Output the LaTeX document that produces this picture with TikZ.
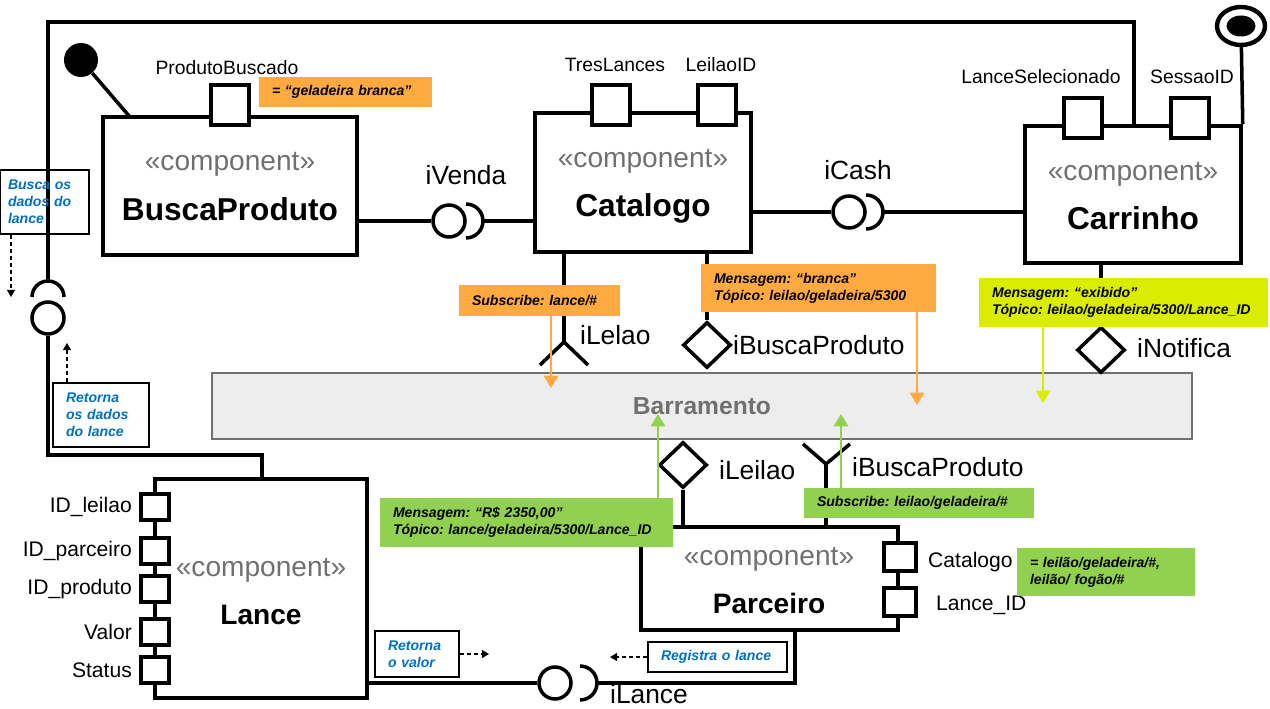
\documentclass[tikz,border=0pt]{standalone}
\usepackage{fontspec}
\setmainfont{Liberation Sans}
\usetikzlibrary{shapes.geometric,arrows.meta,calc}
\frenchspacing

\definecolor{notaorange}{RGB}{255,170,64}
\definecolor{notagreen}{RGB}{146,208,80}
\definecolor{notalime}{RGB}{218,236,0}
\definecolor{notablue}{RGB}{0,112,192}
\definecolor{compgray}{RGB}{112,112,112}
\definecolor{barragray}{RGB}{237,237,237}

\begin{document}
\begin{tikzpicture}[x=0.02cm, y=-0.02cm,
		wire/.style={line width=2pt},
		comp/.style 2 args={draw, line width=2pt, minimum width=#1*0.02cm, minimum height=#2*0.02cm, inner sep=0pt},
		port/.style 2 args={draw, fill=white, line width=2pt, minimum width=#1*0.02cm, minimum height=#2*0.02cm, inner sep=0pt},
		ball/.style={circle, draw, fill=white, line width=2pt, minimum size=0.64cm, inner sep=0pt},
		iface/.style={diamond, draw, fill=white, line width=2pt, minimum width=0.96cm, minimum height=0.92cm, inner sep=0pt},
		stereo/.style={text=compgray, font=\fontsize{16}{19}\selectfont},
		compname/.style={font=\fontsize{18}{22}\selectfont\bfseries},
		ifname/.style={font=\fontsize{15}{18}\selectfont},
		portname/.style={font=\fontsize{11}{13}\selectfont},
		sidename/.style={font=\fontsize{12}{14}\selectfont},
		note/.style={inner xsep=0.26cm, inner ysep=0pt, align=left, font=\fontsize{8}{9.6}\selectfont\bfseries\itshape},
		bluenote/.style={note, draw, line width=0.6pt, text=notablue},
		colarr/.style={line width=1.6pt, -{Triangle[length=7pt,width=8pt]}},
		dasharr/.style={line width=0.8pt, dash pattern=on 2.5pt off 1.5pt, -{Triangle[length=4pt,width=4.5pt]}}
	]
	\useasboundingbox (0,0) rectangle (1270,709);
	
	% Barramento
	\node[draw=compgray, fill=barragray, line width=0.8pt, minimum width=19.6cm, minimum height=1.32cm,
		text=compgray, font=\fontsize{14}{17}\selectfont\bfseries] (barra) at (702,406) {Barramento};
	
	% Components
	\node[comp={254}{138}] (busca) at (230,186) {};
	\node[stereo] (buscast) at (230,164) {«component»};
	\node[compname] (buscanm) at (230,209) {BuscaProduto};
	
	\node[comp={216}{139}] (catalogo) at (643,182.5) {};
	\node[stereo] (catst) at (643,161) {«component»};
	\node[compname] (catnm) at (643,208) {Catalogo};
	
	\node[comp={216}{137}] (carrinho) at (1133,194.5) {};
	\node[stereo] (carst) at (1133,174) {«component»};
	\node[compname] (carnm) at (1133,218) {Carrinho};
	
	\node[comp={212}{219}] (lance) at (261,588.5) {};
	\node[stereo] (lancest) at (261,570) {«component»};
	\node[compname, font=\fontsize{16}{19}\selectfont\bfseries] (lancenm) at (261,615) {Lance};
	
	\node[comp={257}{103}] (parceiro) at (769.5,578.5) {};
	\node[stereo] (parst) at (769,559) {«component»};
	\node[compname, font=\fontsize{16}{19}\selectfont\bfseries] (parnm) at (769,603) {Parceiro};
	
	% Ports on top
	\node[port={38}{40}] (pbport) at (230,105) {};
	\node[portname] (pblbl) at (227,68) {ProdutoBuscado};
	\node[port={38}{40}] (tlport) at (611,105) {};
	\node[portname] (tllbl) at (615,65) {TresLances};
	\node[port={38}{40}] (liport) at (717,105) {};
	\node[portname] (lilbl) at (721,65) {LeilaoID};
	\node[port={38}{40}] (lsport) at (1083,118) {};
	\node[portname] (lslbl) at (1041,77) {LanceSelecionado};
	\node[port={38}{40}] (siport) at (1190,118) {};
	\node[portname] (silbl) at (1192,77) {SessaoID};
	
	% Ports of Lance
	\foreach \y/\t [count=\i] in {507/ID\_leilao, 551/ID\_parceiro, 589/ID\_produto, 632/Valor, 670/Status} {
		\node[port={28}{26}] (lp\i) at (155,\y) {};
		\node[sidename, anchor=east] (lpl\i) at (138,\y) {\t};
	}
	
	% Ports of Parceiro
	\node[port={32}{28}] (pcport) at (900,557) {};
	\node[sidename, anchor=west] (pclbl) at (922,562) {Catalogo};
	\node[port={32}{28}] (plport) at (900,602) {};
	\node[sidename, anchor=west] (pllbl) at (930,605) {Lance\_ID};
	
	% Frame from Carrinho to Lance
	\coordinate (fr1) at (1134,22);
	\coordinate (fr2) at (48,22);
	\coordinate (lsk) at (48,297);
	\node[ball] (lball) at (48,318) {};
	\draw[wire] (carrinho.north -| fr1) -- (fr1) -- (fr2) -- ($(lsk)+(0,-16)$);
	\draw[wire] ($(lsk)+(-16,0)$) arc[start angle=180, end angle=360, radius=16];
	\coordinate (lk1) at (48,455);
	\coordinate (lk2) at (262,455);
	\draw[wire] (lball) -- (lk1) -- (lk2) -- (lance.north -| lk2);
	
	% Dot on BuscaProduto
	\node[circle, fill=black, minimum size=0.68cm, inner sep=0pt] (bdot) at (81,60) {};
	\coordinate (bd) at (130,117);
	\draw[wire] (bdot) -- (bd);
	
	% End symbol on Carrinho
	\node[ellipse, draw, fill=white, line width=2.5pt, minimum width=0.96cm, minimum height=0.76cm, inner sep=0pt] (cend) at (1241,26) {};
	\node[ellipse, fill=black, minimum width=0.58cm, minimum height=0.42cm, inner sep=0pt] (cendin) at (1241,26) {};
	\draw[wire] (cend) -- (carrinho.north east);
	
	% iVenda
	\node[ball] (ivball) at (449,221) {};
	\coordinate (ivsk) at (466,221);
	\draw[wire] ($(ivsk)+(0,-17)$) arc[start angle=-90, end angle=90, radius=17];
	\draw[wire] (busca.east |- ivball) -- (ivball);
	\draw[wire] ($(ivsk)+(17,0)$) -- (catalogo.west |- ivsk);
	\node[ifname] (ivlbl) at (466,175) {iVenda};
	
	% iCash
	\node[ball] (icball) at (849,212) {};
	\coordinate (icsk) at (866,212);
	\draw[wire] ($(icsk)+(0,-17)$) arc[start angle=-90, end angle=90, radius=17];
	\draw[wire] (catalogo.east |- icball) -- (icball);
	\draw[wire] ($(icsk)+(17,0)$) -- (carrinho.west |- icsk);
	\node[ifname] (iclbl) at (858,170) {iCash};
	
	% iLance
	\node[ball] (ilball) at (555,683) {};
	\coordinate (ilsk) at (580,683);
	\draw[wire] ($(ilsk)+(0,-17)$) arc[start angle=-90, end angle=90, radius=17];
	\draw[wire] (lance.east |- ilball) -- (ilball);
	\coordinate (ilk) at (795,683);
	\draw[wire] ($(ilsk)+(17,0)$) -- (ilk) -- (parceiro.south -| ilk);
	\node[ifname] (illbl) at (649,694) {iLance};
	
	% Interfaces under Catalogo
	\coordinate (flj) at (564,342);
	\coordinate (fla) at (540,365);
	\coordinate (flb) at (588,365);
	\draw[wire] (catalogo.south -| flj) -- (flj);
	\draw[wire] (fla) -- (flj) -- (flb);
	\node[ifname, anchor=west] (fllbl) at (574,335) {iLelao};
	
	\node[iface] (ibpd) at (707,345) {};
	\draw[wire] (catalogo.south -| ibpd) -- (ibpd);
	\node[ifname, anchor=west] (ibplbl) at (727,345) {iBuscaProduto};
	
	% iNotifica
	\node[iface] (ind) at (1101,350) {};
	\draw[wire] (carrinho.south -| ind) -- (ind);
	\node[ifname, anchor=west] (inlbl) at (1131,348) {iNotifica};
	
	% Interfaces on Parceiro
	\node[iface] (ild) at (683,465) {};
	\draw[wire] (ild) -- (parceiro.north -| ild);
	\node[ifname, anchor=west] (illbl2) at (713,470) {iLeilao};
	
	\coordinate (fbj) at (826,464);
	\coordinate (fba) at (803,444);
	\coordinate (fbb) at (850,444);
	\draw[wire] (fba) -- (fbj) -- (fbb);
	\draw[wire] (fbj) -- (parceiro.north -| fbj);
	\node[ifname, anchor=west] (fblbl) at (846,467) {iBuscaProduto};
	
	% Notes
	\node[note, fill=notaorange, text width=2.94cm, minimum height=0.6cm] (pbnote) at (345.5,92) {= “geladeira branca”};
	\node[note, fill=notaorange, text width=2.7cm, minimum height=0.62cm] (subl) at (539.5,300.5) {Subscribe: lance/\#};
	\node[note, fill=notaorange, text width=4.18cm, minimum height=0.96cm] (msgb) at (818.5,288) {Mensagem: “branca”\\Tópico: leilao/geladeira/5300};
	\node[note, fill=notalime, text width=5.26cm, minimum height=0.98cm] (msge) at (1123.5,302.5) {Mensagem: “exibido”\\Tópico: leilao/geladeira/5300/Lance\_ID};
	\node[note, fill=notagreen, text width=5.34cm, minimum height=0.98cm] (msgr) at (526.5,522.5) {Mensagem: “R\$ 2350,00”\\Tópico: lance/geladeira/5300/Lance\_ID};
	\node[note, fill=notagreen, text width=4.08cm, minimum height=0.6cm] (subg) at (919,503) {Subscribe: leilao/geladeira/\#};
	\node[note, fill=notagreen, text width=3.04cm, minimum height=0.96cm] (catn) at (1106,572) {= leilão/geladeira/\#,\\leilão/ fogão/\#};
	
	% Notes with the flow
	\node[bluenote, inner xsep=0.16cm, text width=1.46cm, minimum height=1.28cm] (b1) at (44.5,202) {Busca os\\dados do\\lance};
	\node[bluenote, text width=1.4cm, minimum height=1.28cm] (b2) at (101,415) {Retorna\\os dados\\do lance};
	\node[bluenote, text width=1.16cm, minimum height=0.92cm] (b3) at (417,654) {Retorna\\o valor};
	\node[bluenote, text width=2.26cm, minimum height=0.6cm] (b4) at (717.5,657) {Registra o lance};
	
	\coordinate (d1) at (11,297);
	\draw[dasharr] (b1.south -| d1) -- (d1);
	\coordinate (d2) at (67,343);
	\draw[dasharr] (b2.north -| d2) -- (d2);
	\coordinate (d3) at (489,654);
	\draw[dasharr] (b3.east) -- (d3);
	\coordinate (d4) at (610,657);
	\draw[dasharr] (b4.west) -- (d4);
	
	% Messages to and from the Barramento
	\coordinate (t1) at (551,388);
	\draw[colarr, notaorange] (subl.south -| t1) -- (t1);
	\coordinate (t2) at (917,405);
	\draw[colarr, notaorange] (msgb.south -| t2) -- (t2);
	\coordinate (t3) at (1043,403);
	\draw[colarr, notalime] (msge.south -| t3) -- (t3);
	\coordinate (t4) at (658,414);
	\draw[colarr, notagreen] (msgr.north -| t4) -- (t4);
	\coordinate (t5) at (841,414);
	\draw[colarr, notagreen] (subg.north -| t5) -- (t5);
\end{tikzpicture}
\end{document}
